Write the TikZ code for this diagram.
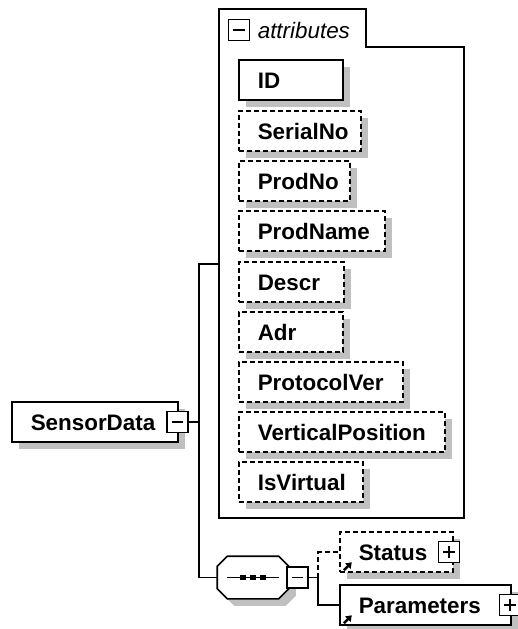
\documentclass[tikz,border=0pt]{standalone}
\usepackage{fontspec}
\setmainfont{Liberation Sans}
\usetikzlibrary{arrows.meta}
\definecolor{shade}{RGB}{192,192,192}
\tikzset{
  shadowed/.style={preaction={draw=none, fill=shade, transform canvas={shift={(5.25pt,-5.25pt)}}}},
  elem/.style={shadowed, draw, fill=white, anchor=west, minimum height=30pt,
    inner xsep=0pt, inner ysep=0pt, text width=#1, align=left,
    text height=12pt, text depth=0pt,
    font=\bfseries\fontsize{16.8}{18}\selectfont,
    execute at begin node={\hspace*{14.25pt}}},
  opt/.style={dash pattern=on 3.75pt off 2.25pt},
  toggle/.style={draw, fill=white, minimum size=15.5pt, inner sep=0pt},
  minus/.style={toggle, path picture={
      \draw ([xshift=3.4pt]path picture bounding box.west) -- ([xshift=-3.4pt]path picture bounding box.east);}},
  plus/.style={toggle, path picture={
      \draw ([xshift=3.4pt]path picture bounding box.west) -- ([xshift=-3.4pt]path picture bounding box.east);
      \draw ([yshift=3.4pt]path picture bounding box.south) -- ([yshift=-3.4pt]path picture bounding box.north);}},
  seqbox/.style={minimum width=52.5pt, minimum height=30.75pt, inner sep=0pt},
  refarrow/.style={line width=1.9pt, -{Triangle[length=4.2pt, width=5.6pt]}},
}
\begin{document}
\begin{tikzpicture}[x=0.75pt, y=-0.75pt, line width=1.2pt]
\useasboundingbox (0,0) rectangle (518,629);

% attribute group with its tab
\draw (219,9) -- (366,9) -- (366,47) -- (464,47) -- (464,518) -- (219,518) -- cycle;
\node[minus] (grpm) at (239,30) {};
\node[anchor=west, inner sep=0pt, font=\itshape\fontsize{16.8}{18}\selectfont] (grplabel) at (257,30) {attributes};

% attributes
\node[elem=78pt]          (id)     at (238,80)  {ID};
\node[elem=91.5pt, opt]   (serial) at (238,131) {SerialNo};
\node[elem=83.25pt, opt]  (prodno) at (238,181) {ProdNo};
\node[elem=109.5pt, opt]  (prodnm) at (238,231) {ProdName};
\node[elem=78.75pt, opt]  (descr)  at (238,282) {Descr};
\node[elem=78pt, opt]     (adr)    at (238,332) {Adr};
\node[elem=123pt, opt]    (proto)  at (238,382) {ProtocolVer};
\node[elem=154.5pt, opt]  (vpos)   at (238,432) {VerticalPosition};
\node[elem=93pt, opt]     (isvirt) at (238,482) {IsVirtual};

% root element
\node[elem=124.5pt] (root) at (11,422) {SensorData};
\node[minus] (rootm) at (177.5,422) {};

% tree trunk
\coordinate (trunktop) at (199,264);
\coordinate (trunkbot) at (199,577.5);
\coordinate (attrs) at (219,264);

% sequence compositor
\node[seqbox] (seq) at (253,577.5) {};
\draw[shadowed, fill=white]
  ([xshift=7.5pt]seq.north west) -- ([xshift=-7.5pt]seq.north east) --
  ([yshift=-7.5pt]seq.north east) -- ([yshift=7.5pt]seq.south east) --
  ([xshift=-7.5pt]seq.south east) -- ([xshift=7.5pt]seq.south west) --
  ([yshift=7.5pt]seq.south west) -- ([yshift=-7.5pt]seq.north west) -- cycle;
\draw ([xshift=7.5pt]seq.west) -- ([xshift=-7.5pt]seq.east);
\foreach \dx in {-7.5pt, 0pt, 7.5pt}
  \fill ([xshift=\dx]seq.center) +(-2.5pt,-2.2pt) rectangle +(2.5pt,2.2pt);
\node[minus] (seqm) at (297.5,577.5) {};
\coordinate (fork) at (318,577.5);

% child elements
\node[elem=84.75pt, opt] (status) at (339,552) {Status};
\node[plus] (statusp) at (449,552) {};
\node[elem=128.25pt] (params) at (339,605) {Parameters};
\node[plus] (paramsp) at (510,605) {};
\draw[refarrow] ([shift={(3.6pt,1.9pt)}]status.south west) -- ++(6pt,6pt);
\draw[refarrow] ([shift={(3.6pt,1.9pt)}]params.south west) -- ++(6pt,6pt);

% connectors
\draw (rootm.east) -- (rootm.east -| trunktop);
\draw (attrs) -- (trunktop) -- (trunkbot) -- (seq.west);
\draw (seqm.east) -- (fork);
\draw[opt] (fork) |- (status.west);
\draw (fork) |- (params.west);
\end{tikzpicture}
\end{document}
